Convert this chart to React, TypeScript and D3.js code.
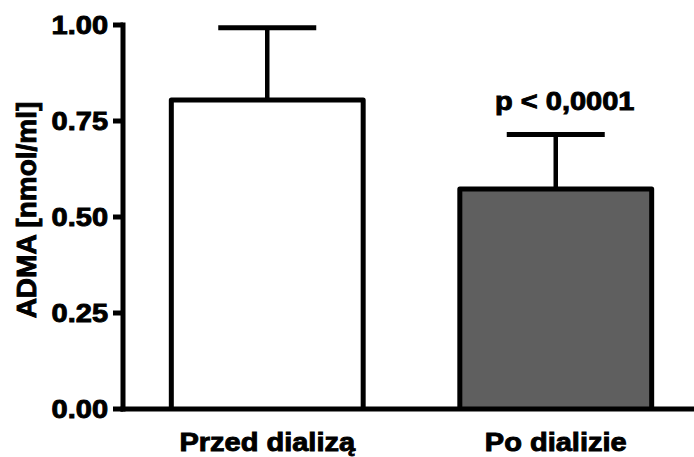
import React from "react";
import * as d3 from "d3";

const categories = ["Przed dializą", "Po dializie"];
const means = [0.805, 0.573];
const errors = [0.188, 0.142];
const fills = ["#ffffff", "#5f5f5f"];
const yTicks = [0, 0.25, 0.5, 0.75, 1.0];
const yLabel = "ADMA [nmol/ml]";
const annotation = "p < 0,0001";

export default function App() {
  const W = 694, H = 457;
  const x0 = 123;
  const y = d3.scaleLinear().domain([0, 1]).range([409, 25]);
  const x = d3
    .scaleBand<string>()
    .domain(categories)
    .range([x0, x0 + 577])
    .paddingInner(0.335)
    .paddingOuter(0.1675);
  const fmt = d3.format(".2f");
  const font = "'Liberation Sans', Arial, Helvetica, sans-serif";
  const sx = 1.16;
  const textStyle = {
    fontFamily: font,
    fontWeight: "bold" as const,
    fill: "#000",
    stroke: "#000",
    strokeWidth: 0.9,
  };
  return (
    <svg width={W} height={H} style={{ position: "absolute", left: 0, top: 0 }}>
      <rect width={W} height={H} fill="#fff" />
      {categories.map((c, i) => {
        const bx = x(c)!;
        const bw = x.bandwidth();
        const cx = bx + bw / 2;
        const top = y(means[i]);
        const eTop = y(means[i] + errors[i]);
        return (
          <g key={c}>
            <line x1={cx} x2={cx} y1={top} y2={eTop} stroke="#000" strokeWidth={4.5} />
            <line x1={cx - 49} x2={cx + 49} y1={eTop} y2={eTop} stroke="#000" strokeWidth={5} />
            <path
              d={`M${bx},${y(0)}V${top}H${bx + bw}V${y(0)}`}
              fill={fills[i]}
              stroke="#000"
              strokeWidth={5}
              strokeLinejoin="round"
            />
            <text
              transform={`translate(${cx},451) scale(${sx},1)`}
              textAnchor="middle"
              fontSize={25}
              style={textStyle}
            >
              {c}
            </text>
          </g>
        );
      })}
      <line x1={x0} x2={x0} y1={y(1) - 2.5} y2={y(0) + 2.5} stroke="#000" strokeWidth={5} />
      <line x1={x0 - 2.5} x2={W} y1={y(0)} y2={y(0)} stroke="#000" strokeWidth={5} />
      {yTicks.map((t) => (
        <g key={t}>
          <line x1={x0 - 10} x2={x0} y1={y(t)} y2={y(t)} stroke="#000" strokeWidth={5} />
          <text
            transform={`translate(${x0 - 15},${y(t) + 9}) scale(${sx},1)`}
            textAnchor="end"
            fontSize={25}
            style={textStyle}
          >
            {fmt(t)}
          </text>
        </g>
      ))}
      <text
        transform={`translate(36,210) rotate(-90)`}
        textAnchor="middle"
        fontSize={28}
        style={textStyle}
      >
        {yLabel}
      </text>
      <text
        transform={`translate(${x(categories[1])! + x.bandwidth() / 2 + 9},110) scale(${sx},1)`}
        textAnchor="middle"
        fontSize={25}
        style={textStyle}
      >
        {annotation}
      </text>
    </svg>
  );
}
